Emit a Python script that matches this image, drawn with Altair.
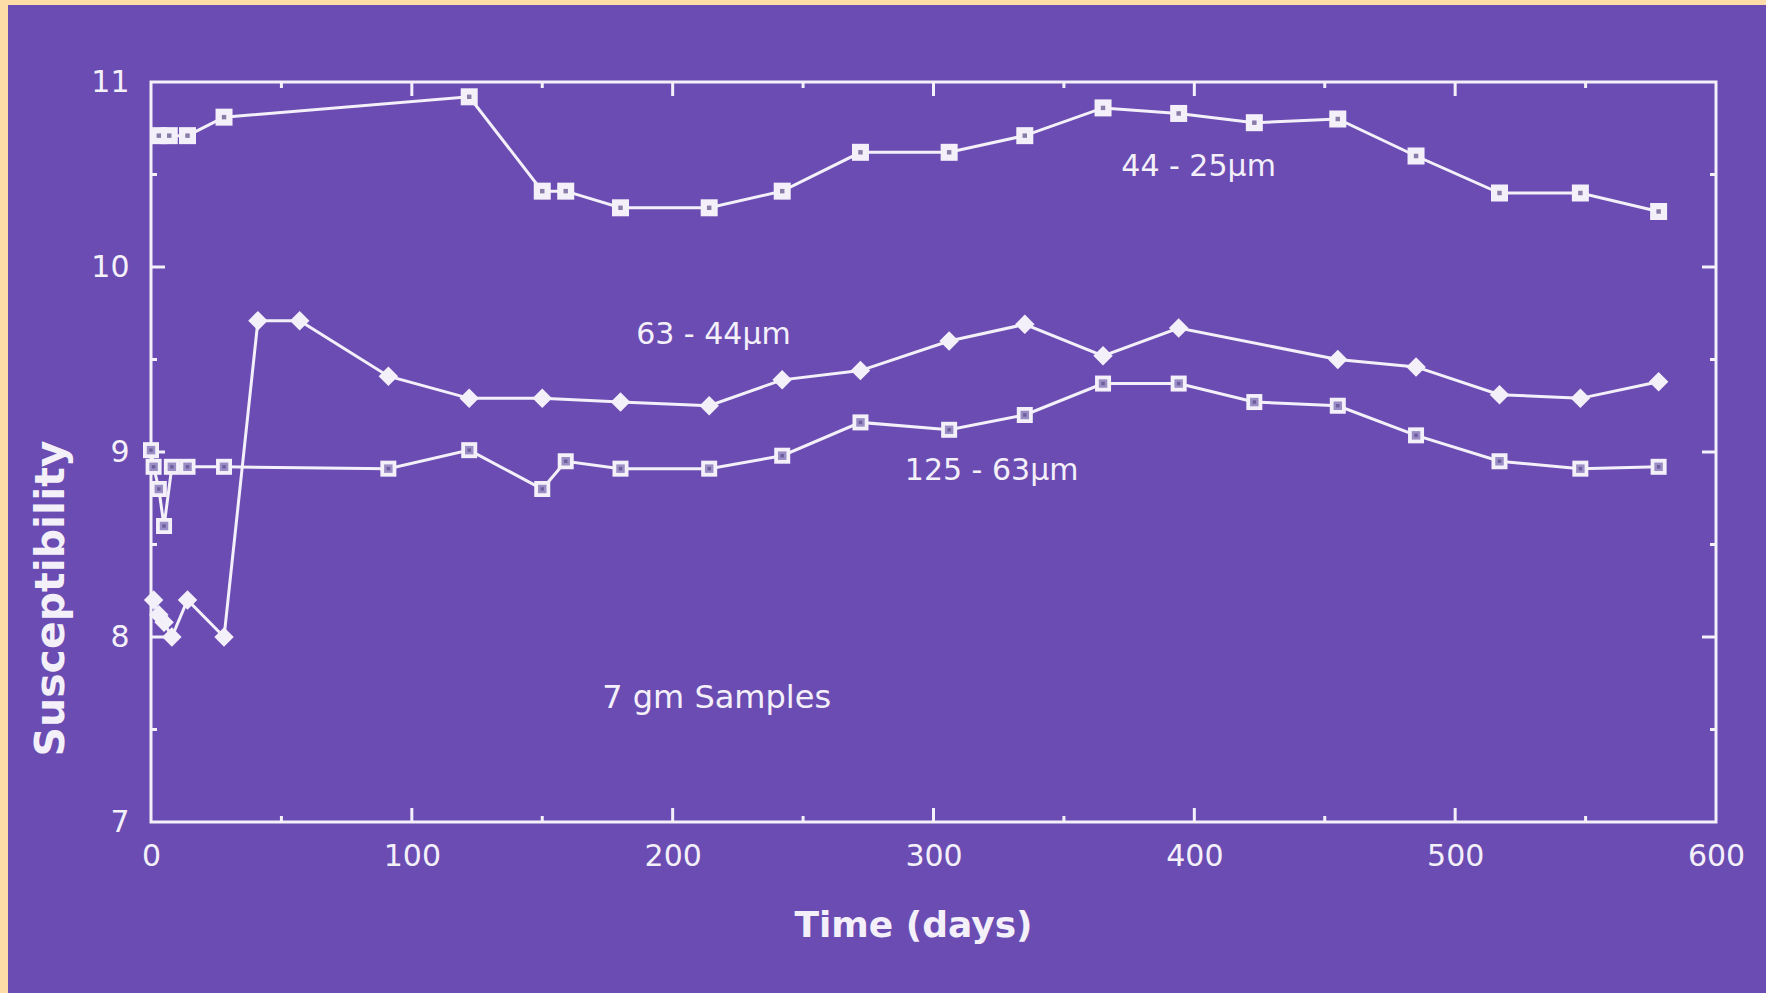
import altair as alt
import pandas as pd

# Magnetic susceptibility of 7 gm samples over time, by grain-size fraction
days_44_25 = [3, 7, 14, 28, 122, 150, 159, 180, 214, 242, 272, 306, 335,
              365, 394, 423, 455, 485, 517, 548, 578]
susc_44_25 = [10.71, 10.71, 10.71, 10.81, 10.92, 10.41, 10.41, 10.32, 10.32,
              10.41, 10.62, 10.62, 10.71, 10.86, 10.83, 10.78, 10.80, 10.60,
              10.40, 10.40, 10.30]

days_63_44 = [1, 3, 5, 8, 14, 28, 41, 57, 91, 122, 150, 180, 214, 242, 272,
              306, 335, 365, 394, 455, 485, 517, 548, 578]
susc_63_44 = [8.20, 8.12, 8.08, 8.00, 8.20, 8.00, 9.71, 9.71, 9.41, 9.29,
              9.29, 9.27, 9.25, 9.39, 9.44, 9.60, 9.69, 9.52, 9.67, 9.50,
              9.46, 9.31, 9.29, 9.38]

days_125_63 = [0, 1, 3, 5, 8, 14, 28, 91, 122, 150, 159, 180, 214, 242, 272,
               306, 335, 365, 394, 423, 455, 485, 517, 548, 578]
susc_125_63 = [9.01, 8.92, 8.80, 8.60, 8.92, 8.92, 8.92, 8.91, 9.01, 8.80,
               8.95, 8.91, 8.91, 8.98, 9.16, 9.12, 9.20, 9.37, 9.37, 9.27,
               9.25, 9.09, 8.95, 8.91, 8.92]

# Curve labels and their anchor points (day, susceptibility)
label_text = ["44 - 25µm", "63 - 44µm", "125 - 63µm", "7 gm Samples"]
label_day = [372, 186, 289, 173]
label_val = [10.54, 9.63, 8.90, 7.67]
label_size = [30, 30, 30, 32]

# Axis tick values
x_label_values = [0, 100, 200, 300, 400, 500, 600]
y_label_values = [7, 8, 9, 10, 11]
x_major = [100, 200, 300, 400, 500]
x_minor = [50, 150, 250, 350, 450, 550]
y_major = [8, 9, 10]
y_minor = [7.5, 8.5, 9.5, 10.5]

W, H = 1565, 740
PURPLE = "#6b4cb2"
PEACH = "#fedca8"
INK = "#f4f0fa"
FONT = "DejaVu Sans"

xs = alt.Scale(domain=[0, 600], nice=False, zero=False)
ys = alt.Scale(domain=[7, 11], nice=False, zero=False)

x_axis = alt.Axis(values=x_label_values, format="d", ticks=False, tickSize=0,
                  domain=False, grid=False, labelFont=FONT, labelFontSize=30,
                  labelColor=INK, labelPadding=19, labelFlush=False,
                  title="Time (days)",
                  titleFont=FONT, titleFontWeight="bold", titleFontSize=36,
                  titleColor=INK, titleX=762, titleY=114,
                  titleBaseline="alphabetic", titleAlign="center")
y_axis = alt.Axis(values=y_label_values, format="d", ticks=False, tickSize=0,
                  domain=False, grid=False, labelFont=FONT, labelFontSize=30,
                  labelColor=INK, labelPadding=22, labelFlush=False,
                  title="Susceptibility",
                  titleFont=FONT, titleFontWeight="bold", titleFontSize=41,
                  titleColor=INK, titleX=-88, titleY=516, titleAngle=270,
                  titleBaseline="alphabetic", titleAlign="center")


def frame(days, vals, name):
    return pd.DataFrame({"day": days, "val": vals, "series": name})


df_a = frame(days_44_25, susc_44_25, "44 - 25")
df_b = frame(days_63_44, susc_63_44, "63 - 44")
df_c = frame(days_125_63, susc_125_63, "125 - 63")
one = pd.DataFrame({"k": [0]})

# Every layer shares the same axis definition so the merged axis stays on
X = alt.X("day:Q", scale=xs, axis=x_axis)
Y = alt.Y("val:Q", scale=ys, axis=y_axis)

# Peach border strips along the top and left edges
top_strip = alt.Chart(one).mark_rect(color=PEACH).encode(
    x=alt.value(-151), x2=alt.value(W + 50), y=alt.value(-82), y2=alt.value(-77))
left_strip = alt.Chart(one).mark_rect(color=PEACH).encode(
    x=alt.value(-151), x2=alt.value(-143), y=alt.value(-82), y2=alt.value(H + 171))


def xticks(vals, length):
    d = pd.DataFrame({"day": vals})
    bottom = alt.Chart(d).mark_rule(color=INK, strokeWidth=3).encode(
        x=X, y=alt.value(H), y2=alt.value(H - length))
    top = alt.Chart(d).mark_rule(color=INK, strokeWidth=3).encode(
        x=X, y=alt.value(0), y2=alt.value(length))
    return [bottom, top]


def yticks(vals, length):
    d = pd.DataFrame({"val": vals})
    left = alt.Chart(d).mark_rule(color=INK, strokeWidth=3).encode(
        y=Y, x=alt.value(0), x2=alt.value(length))
    right = alt.Chart(d).mark_rule(color=INK, strokeWidth=3).encode(
        y=Y, x=alt.value(W), x2=alt.value(W - length))
    return [left, right]


ticks = xticks(x_major, 14) + xticks(x_minor, 6) + yticks(y_major, 14) + yticks(y_minor, 6)


def curve(df):
    return alt.Chart(df).mark_line(color=INK, strokeWidth=3).encode(
        x=X, y=Y, order="day:Q")


lines = [curve(df_a), curve(df_b), curve(df_c)]

# Square markers with a small dot inside, diamonds filled
sq_a = alt.Chart(df_a).mark_point(shape="square", filled=True, size=289,
                                  color=INK, opacity=1).encode(x=X, y=Y)
dot_a = alt.Chart(df_a).mark_point(shape="square", filled=True, size=20,
                                   color="#8a7ca8", opacity=1).encode(x=X, y=Y)
sq_c = alt.Chart(df_c).mark_point(shape="square", filled=True, size=256,
                                  color=INK, opacity=1).encode(x=X, y=Y)
in_c = alt.Chart(df_c).mark_point(shape="square", filled=True, size=72,
                                  color="#9a8cc4", opacity=1).encode(x=X, y=Y)
dot_c = alt.Chart(df_c).mark_point(shape="square", filled=True, size=12,
                                   color="#6f5e9e", opacity=1).encode(x=X, y=Y)
dia_b = alt.Chart(df_b).mark_point(shape="diamond", filled=True, size=380,
                                   color=INK, opacity=1).encode(x=X, y=Y)

labels_df = pd.DataFrame({"text": label_text, "day": label_day,
                          "val": label_val, "size": label_size})
texts = alt.Chart(labels_df).mark_text(
    align="left", baseline="middle", font=FONT, color=INK).encode(
    x=X, y=Y, text="text:N",
    size=alt.Size("size:Q", scale=None, legend=None))

chart = alt.layer(
    top_strip, left_strip, *ticks, *lines,
    sq_a, dot_a, sq_c, in_c, dot_c, dia_b, texts,
).properties(
    width=W, height=H,
    padding={"left": 151, "top": 82, "right": 50, "bottom": 171},
    autosize="none",
    background=PURPLE,
).configure_view(stroke=INK, strokeWidth=3)

chart.save("out.html", embed_options={"renderer": "svg", "actions": False})
